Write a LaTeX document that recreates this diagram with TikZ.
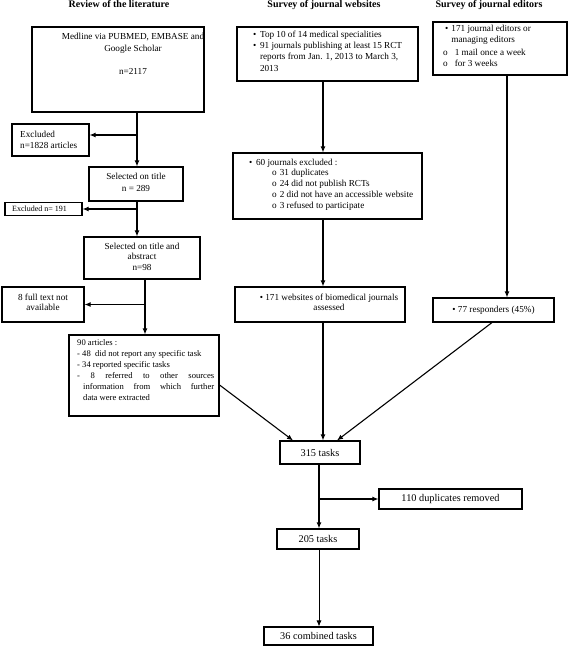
\documentclass[tikz,border=0pt]{standalone}
\usepackage{fontspec}
\setmainfont{Liberation Serif}
\usetikzlibrary{arrows.meta,calc}
\begin{document}
\begin{tikzpicture}[x=1pt,y=-1pt,
  box/.style={draw,line width=1.1pt,inner sep=0pt},
  ln/.style={line width=1.1pt},
  arr/.style={line width=1.1pt,-{Latex[length=6pt,width=5pt]}},
  t/.style={inner sep=0pt,font=\fontsize{9.2}{11.3}\selectfont},
  big/.style={font=\fontsize{10.3}{12}\selectfont},
  hd/.style={inner sep=0pt,font=\bfseries\fontsize{10}{12}\selectfont,anchor=mid}]
\useasboundingbox (0,0) rectangle (568,646);
% headings
\node[hd] (h1) at (119,5) {Review of the literature};
\node[hd] (h2) at (324,5) {Survey of journal websites};
\node[hd] (h3) at (489,5) {Survey of journal editors};
% left column boxes
\node[box,minimum width=172pt,minimum height=85pt] (A) at (118,69.5) {};
\node[t,align=center,anchor=north,font=\fontsize{9.2}{12.5}\selectfont] (At) at (133,32.5) {Medline via PUBMED, EMBASE and\\Google Scholar\\[10.5pt]n=2117};
\node[box,minimum width=77pt,minimum height=32pt] (ex1) at (50.5,140) {};
\node[t,align=left,anchor=north west,font=\fontsize{9.2}{11}\selectfont] (ex1t) at (20,130.5) {Excluded\\n=1828 articles};
\node[box,minimum width=94pt,minimum height=34pt] (B) at (136,184) {};
\node[t,align=center,anchor=north,font=\fontsize{9.2}{12}\selectfont] (Bt) at (136,172.5) {Selected on title\\n = 289};
\node[box,minimum width=77pt,minimum height=12.5pt] (ex2) at (43.5,209) {};
\node[t,anchor=mid west,font=\fontsize{8}{9}\selectfont] (ex2t) at (12,209) {Excluded n= 191};
\node[box,minimum width=116pt,minimum height=42pt] (C) at (142,258) {};
\node[t,align=center,anchor=north,font=\fontsize{9.2}{10.5}\selectfont] (Ct) at (142,242.5) {Selected on title and\\abstract\\n=98};
\node[box,minimum width=82pt,minimum height=35pt] (ex3) at (43,304.5) {};
\node[t,align=center,anchor=north,font=\fontsize{9.2}{10.5}\selectfont] (ex3t) at (43,293.5) {8 full text not\\available};
\node[box,minimum width=150pt,minimum height=81pt] (D) at (144,375.5) {};
\node[t,anchor=north west] (Dt) at (77,339.5) {\parbox{137pt}{\fontsize{8.6}{10.9}\selectfont
90 articles :\par
\hangindent=6pt\hangafter=1 - 48\ \ did not report any specific task\par
\hangindent=6pt\hangafter=1 - 34 reported specific tasks\par
\hangindent=6pt\hangafter=1 - 8 referred to other sources\linebreak information from which further\linebreak data were extracted\par}};
% middle column
\node[box,minimum width=181pt,minimum height=54pt] (W1) at (327.5,54) {};
\node[t,anchor=north west] (W1t) at (253,29.2) {\begin{tabular}{@{}l@{\hspace{3.6pt}}l@{}}
\textbullet & Top 10 of 14 medical specialities\\
\textbullet & 91 journals publishing at least 15 RCT\\
 & reports from Jan. 1, 2013 to March 3,\\
 & 2013\end{tabular}};
\node[box,minimum width=189pt,minimum height=66pt] (W2) at (327.5,186) {};
\node[t,anchor=mid west] (W2a) at (249,163) {\textbullet\hspace{3.6pt}60 journals excluded :};
\node[t,anchor=north west,font=\fontsize{9.2}{10.9}\selectfont] (W2b) at (272,167.5) {\begin{tabular}{@{}l@{\hspace{3pt}}l@{}}
o & 31 duplicates\\
o & 24 did not publish RCTs\\
o & 2 did not have an accessible website\\
o & 3 refused to participate\end{tabular}};
\node[box,minimum width=170pt,minimum height=35pt] (W3) at (320,304.5) {};
\node[t,align=center,anchor=north,font=\fontsize{9.2}{10.5}\selectfont] (W3t) at (329,293.5) {\textbullet\ 171 websites of biomedical journals\\assessed};
% right column
\node[box,minimum width=134pt,minimum height=53pt] (E1) at (500,48.5) {};
\node[t,anchor=north west] (E1a) at (445,23.2) {\begin{tabular}{@{}l@{\hspace{3pt}}l@{}}
\textbullet & 171 journal editors or\\
 & managing editors\end{tabular}};
\node[t,anchor=north west] (E1b) at (443,47.2) {\begin{tabular}{@{}l@{\hspace{7pt}}l@{}}
o & 1 mail once a week\\
o & for 3 weeks\end{tabular}};
\node[box,minimum width=121pt,minimum height=24pt,t] (E2) at (493.5,310) {\textbullet\ 77 responders (45\%)};
% bottom
\node[box,minimum width=80pt,minimum height=23pt,big] (T315) at (320,452.5) {315 tasks};
\node[box,minimum width=143pt,minimum height=20pt,big] (Dup) at (450.5,499) {110 duplicates removed};
\node[box,minimum width=82pt,minimum height=20pt,big] (T205) at (318,539) {205 tasks};
\node[box,minimum width=109pt,minimum height=18pt,big] (T36) at (318.5,636) {36 combined tasks};
% connectors left column
\coordinate (j1) at ([xshift=1pt]B.north |- ex1.east);
\draw[arr] ([xshift=1pt]B.north |- A.south) -- ([xshift=1pt]B.north);
\draw[arr] ([yshift=5pt]j1) -- ([yshift=5pt]ex1.east);
\draw[arr] ([xshift=1pt]B.south) -- ([xshift=1pt]B.south |- C.north);
\draw[arr] ([xshift=1pt]B.south |- ex2.east) -- (ex2.east);
\draw[arr] ([xshift=1pt]D.north |- C.south) -- ([xshift=1pt]D.north);
\draw[arr] ([xshift=1pt]D.north |- ex3.east) -- (ex3.east);
\draw[arr] ([yshift=-9.5pt]D.east) -- ([xshift=-27pt]T315.north);
% middle column
\draw[arr] ([xshift=-4.5pt]W1.south) -- ([xshift=-4.5pt]W1.south |- W2.north);
\draw[arr] ([xshift=-4.5pt]W2.south) -- ([xshift=-4.5pt]W2.south |- W3.north);
\draw[arr] ([xshift=3pt]W3.south) -- ([xshift=3pt]T315.north);
% right column
\draw[arr] ([xshift=7pt]E1.south) -- ([xshift=7pt]E1.south |- E2.north);
\draw[arr] ([xshift=-1.5pt]E2.south) -- ([xshift=17pt]T315.north);
% bottom
\draw[arr,line width=1.5pt] ([xshift=-1pt]T315.south) -- ([xshift=-1pt]T315.south |- T205.north);
\draw[arr] ([xshift=-1pt]T315.south |- Dup.west) -- (Dup.west);
\draw[arr,line width=0.8pt] ([xshift=1pt]T205.south) -- ([xshift=1pt]T205.south |- T36.north);
\end{tikzpicture}
\end{document}
